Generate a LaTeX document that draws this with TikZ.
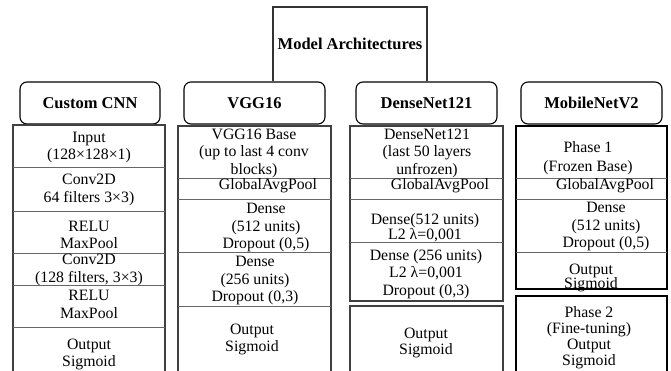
\documentclass[tikz,border=0pt]{standalone}
\usepackage{fontspec}
\setmainfont{Liberation Serif}
\tikzset{
  hdr/.style={draw=black, line width=1.1pt, rounded corners=7pt, minimum width=141pt,
    minimum height=42pt, inner sep=0pt, font=\fontsize{16.5}{18}\selectfont\bfseries},
  frame/.style={draw=black!75, line width=1.3pt},
  thickframe/.style={draw=black, line width=1.8pt},
  sep/.style={draw=black!60, line width=1pt},
  lbl/.style={align=center, inner sep=0pt, font=\fontsize{15.8}{17.5}\selectfont},
  tight/.style={font=\fontsize{15.8}{15.5}\selectfont},
}
\begin{document}
\begin{tikzpicture}[x=1pt,y=-1pt]
\useasboundingbox (0,0) rectangle (671,370);
\clip (0,0) rectangle (671,370);

% title box, open at the bottom
\draw[line width=1.1pt, black!80] (273,81) -- (273,7) -- (427,7) -- (427,81);
\node[inner sep=0pt, font=\fontsize{16.5}{18}\selectfont\bfseries] (title) at (350,44) {Model Architectures};

% column headers
\node[hdr, minimum width=140pt] (hcnn) at (90,103) {Custom CNN};
\node[hdr] (hvgg) at (254.5,103) {VGG16};
\node[hdr] (hdense) at (426.5,103) {DenseNet121};
\node[hdr] (hmob) at (591.5,103) {MobileNetV2};

% ---- Custom CNN column
\draw[frame] (13,380) -- (13,125) -- (165,125) -- (165,380);
\foreach \y in {167,211,253,285,327} \draw[sep] (13,\y) -- (165,\y);
\node[lbl] (c1) at (89,147.5) {Input\\(128×128×1)};
\node[lbl] (c2) at (89,190) {Conv2D\\64 filters 3×3)};
\node[lbl] (c3) at (89,235) {RELU\\MaxPool};
\node[lbl] (c4) at (89,270) {Conv2D\\(128 filters, 3×3)};
\node[lbl] (c5) at (89,304.5) {RELU\\MaxPool};
\node[lbl] (c6) at (89,354.5) {Output\\Sigmoid};

% ---- VGG16 column
\draw[frame] (178,380) -- (178,126) -- (331,126) -- (331,380);
\foreach \y in {178,199,252,306} \draw[sep] (178,\y) -- (331,\y);
\node[lbl] (v1) at (254,153) {VGG16 Base\\(up to last 4 conv\\blocks)};
\node[lbl] (v2) at (268,185.5) {GlobalAvgPool};
\node[lbl] (v3) at (266,228) {Dense\\(512 units)\\Dropout (0,5)};
\node[lbl] (v4) at (255,281) {Dense\\(256 units)\\Dropout (0,3)};
\node[lbl] (v5) at (252,339.5) {Output\\Sigmoid};

% ---- DenseNet121 column
\draw[frame] (350,301) -- (350,126) -- (503,126) -- (503,301) -- cycle;
\foreach \y in {178,199,242} \draw[sep] (350,\y) -- (503,\y);
\draw[frame] (350,380) -- (350,306) -- (503,306) -- (503,380);
\node[lbl] (d1) at (427,153) {DenseNet121\\(last 50 layers\\unfrozen)};
\node[lbl] (d2) at (440,185.5) {GlobalAvgPool};
\node[lbl, tight] (d3) at (425,227.5) {Dense(512 units)\\L2 λ=0,001};
\node[lbl] (d4) at (426,274) {Dense (256 units)\\L2 λ=0,001\\Dropout (0,3)};
\node[lbl, tight] (d5) at (426,343) {Output\\Sigmoid};

% ---- MobileNetV2 column
\draw[thickframe] (516,289) -- (516,126) -- (667,126) -- (667,289) -- cycle;
\foreach \y in {178,199,252} \draw[sep] (516,\y) -- (667,\y);
\draw[thickframe] (516,380) -- (516,296) -- (667,296) -- (667,380);
\node[lbl, font=\fontsize{15.8}{19}\selectfont] (m1) at (588,158) {Phase 1\\(Frozen Base)};
\node[lbl] (m2) at (605,185.5) {GlobalAvgPool};
\node[lbl] (m3) at (606,227) {Dense\\(512 units)\\Dropout (0,5)};
\node[lbl, font=\fontsize{15.8}{14.5}\selectfont] (m4) at (591,278) {Output\\Sigmoid};
\node[lbl, font=\fontsize{15.8}{16}\selectfont] (m5) at (589,338) {Phase 2\\(Fine-tuning)\\Output\\Sigmoid};
\end{tikzpicture}
\end{document}
